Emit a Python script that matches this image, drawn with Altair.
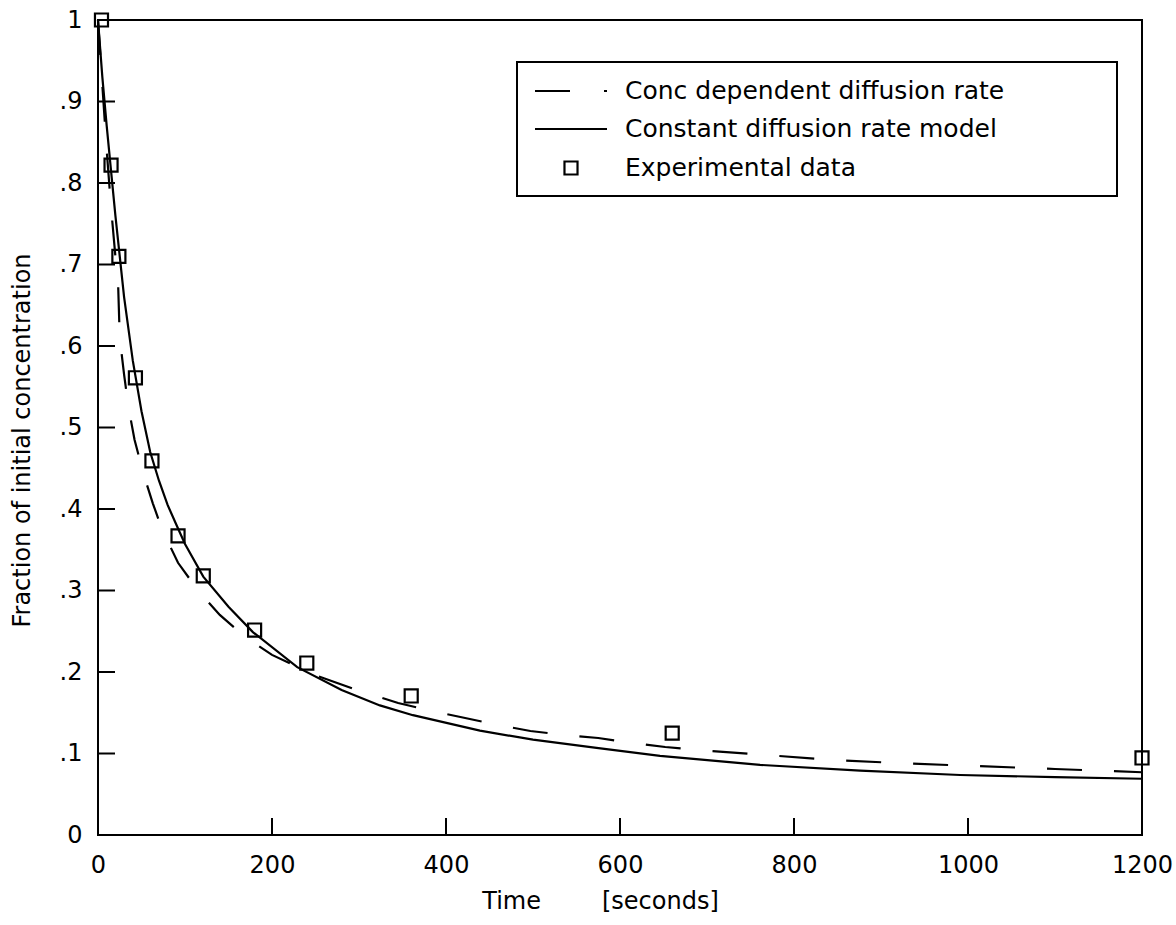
import altair as alt
import pandas as pd

# ---- data ----
t_exp = [4, 15, 24, 43, 62, 92, 121, 180, 240, 360, 660, 1200]
v_exp = [1.0, 0.822, 0.710, 0.561, 0.459, 0.367, 0.318, 0.2515, 0.211, 0.1706, 0.125, 0.0945]

t_const = [0, 5, 10, 15, 20, 25, 30, 40, 50, 60, 70, 80, 92, 100, 121, 150, 178, 229,
           280, 324, 362, 439, 500, 573, 646, 761, 876, 991, 1100, 1200]
v_const = [1.0, 0.93, 0.87, 0.815, 0.76, 0.71, 0.66, 0.582, 0.52, 0.47, 0.435, 0.405,
           0.376, 0.357, 0.317, 0.28, 0.249, 0.206, 0.178, 0.159, 0.147, 0.128, 0.117,
           0.107, 0.097, 0.086, 0.079, 0.0736, 0.071, 0.069]

t_conc = [0, 5, 10, 15, 20, 23, 25, 30, 35, 42, 52, 63, 74, 92, 115, 140, 169, 200, 250,
          300, 345, 384, 422, 460, 497, 537, 575, 614, 652, 692, 769, 847, 924, 1000,
          1100, 1200]
v_conc = [1.0, 0.92, 0.84, 0.77, 0.71, 0.68, 0.61, 0.565, 0.525, 0.485, 0.444, 0.407,
          0.374, 0.334, 0.30, 0.27, 0.243, 0.221, 0.196, 0.177, 0.162, 0.152, 0.1436,
          0.135, 0.1276, 0.1227, 0.119, 0.113, 0.108, 0.104, 0.098, 0.092, 0.088, 0.085,
          0.081, 0.077]

x_ticks = [0, 200, 400, 600, 800, 1000, 1200]
y_ticks = [0, 0.1, 0.2, 0.3, 0.4, 0.5, 0.6, 0.7, 0.8, 0.9, 1.0]
x_inner_ticks = [200, 400, 600, 800, 1000]
y_inner_ticks = [0.1, 0.2, 0.3, 0.4, 0.5, 0.6, 0.7, 0.8, 0.9]

legend_labels = ["Conc dependent diffusion rate", "Constant diffusion rate model", "Experimental data"]

W, H = 1044, 815
FONT = "DejaVu Sans"
FS_TICK = 24
FS_TITLE = 24
FS_LEG = 25

df_exp = pd.DataFrame({"t": t_exp, "v": v_exp})
df_const = pd.DataFrame({"t": t_const, "v": v_const})
df_conc = pd.DataFrame({"t": t_conc, "v": v_conc})
df_xt = pd.DataFrame({"t": x_inner_ticks})
df_yt = pd.DataFrame({"v": y_inner_ticks})
one = pd.DataFrame({"k": [0]})

xs = alt.Scale(domain=[0, 1200], nice=False, zero=False)
ys = alt.Scale(domain=[0, 1], nice=False, zero=False)

X = alt.X("t:Q", scale=xs, axis=alt.Axis(
    values=x_ticks, ticks=False, domain=False, grid=False, labelPadding=18,
    labelFont=FONT, labelFontSize=FS_TICK, labelColor="black", labelFlush=False,
    labelExpr="format(datum.value, 'd')",
    title="Time\u00a0\u00a0\u00a0\u00a0\u00a0\u00a0\u00a0\u00a0[seconds]",
    titleFont=FONT, titleFontSize=FS_TITLE, titleFontWeight="normal", titleColor="black",
    titleX=502, titleY=66, titleBaseline="middle", titleAlign="center"))
Y = alt.Y("v:Q", scale=ys, axis=alt.Axis(
    values=y_ticks, ticks=False, domain=False, grid=False, labelPadding=16,
    labelFont=FONT, labelFontSize=FS_TICK, labelColor="black", labelFlush=False,
    labelBaseline="middle",
    labelExpr="datum.value == 0 ? '0' : datum.value == 1 ? '1' : '.' + format(datum.value * 10, '.0f')",
    title="Fraction of initial concentration",
    titleFont=FONT, titleFontSize=FS_TITLE, titleFontWeight="normal", titleColor="black",
    titleX=-76, titleY=420, titleBaseline="middle", titleAlign="center", titleAngle=270))

const_line = alt.Chart(df_const).mark_line(color="black", strokeWidth=2.2).encode(x=X, y=Y)
conc_line = alt.Chart(df_conc).mark_line(color="black", strokeWidth=2.2, strokeDash=[35, 32]).encode(x=X, y=Y)
pts = alt.Chart(df_exp).mark_point(shape="square", filled=False, size=170, strokeWidth=2.2,
                                    color="black", opacity=1).encode(x=X, y=Y)

xticks = alt.Chart(df_xt).mark_rule(color="black", strokeWidth=2).encode(
    x=X, y=alt.value(H), y2=alt.value(H - 17))
yticks = alt.Chart(df_yt).mark_rule(color="black", strokeWidth=2).encode(
    y=Y, x=alt.value(0), x2=alt.value(17))

# legend box
lg_box = alt.Chart(one).mark_rect(fill="white", stroke="black", strokeWidth=2).encode(
    x=alt.value(419), x2=alt.value(1019), y=alt.value(42), y2=alt.value(176))
rows = [71, 109, 148]
lg_dash = alt.Chart(one).mark_rule(color="black", strokeWidth=2).encode(
    x=alt.value(437), x2=alt.value(472), y=alt.value(rows[0]))
lg_dot = alt.Chart(one).mark_rule(color="black", strokeWidth=2).encode(
    x=alt.value(506), x2=alt.value(509), y=alt.value(rows[0]))
lg_solid = alt.Chart(one).mark_rule(color="black", strokeWidth=2).encode(
    x=alt.value(437), x2=alt.value(509), y=alt.value(rows[1]))
lg_sq = alt.Chart(one).mark_point(shape="square", filled=False, size=170, strokeWidth=2.2,
                                  color="black", opacity=1).encode(
    x=alt.value(473), y=alt.value(rows[2]))
lg_texts = [
    alt.Chart(one).mark_text(text=lab, align="left", baseline="middle", font=FONT,
                             fontSize=FS_LEG, color="black").encode(
        x=alt.value(527), y=alt.value(r))
    for lab, r in zip(legend_labels, rows)
]

chart = alt.layer(
    const_line, conc_line, pts, xticks, yticks,
    lg_box, lg_dash, lg_dot, lg_solid, lg_sq, *lg_texts
).properties(
    width=W, height=H,
    autosize=alt.AutoSizeParams(type="none"),
    padding={"left": 98, "top": 20, "right": 34, "bottom": 90},
    background="white",
).configure_view(stroke="black", strokeWidth=2)

chart.save("out.html", embed_options={"renderer": "svg", "actions": False})
